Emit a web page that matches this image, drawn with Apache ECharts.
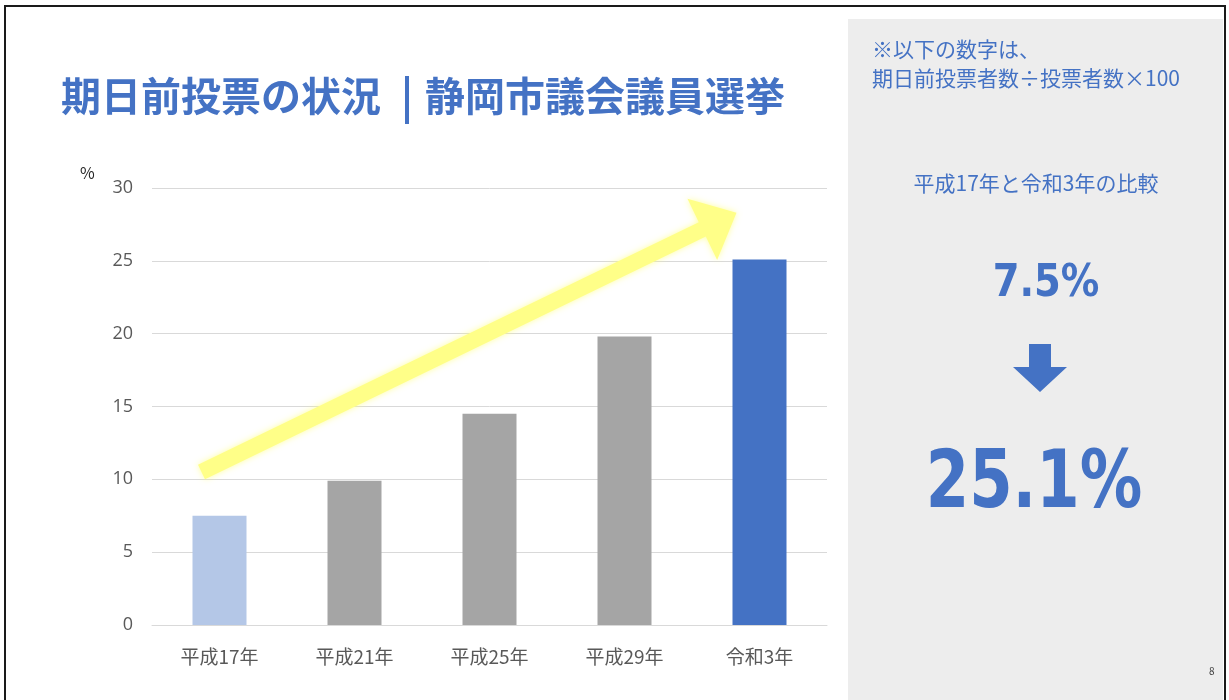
<!DOCTYPE html>
<html>
<head>
<meta charset="utf-8">
<script src="https://cdn.jsdelivr.net/npm/echarts@6/dist/echarts.min.js"></script>
<style>
  html, body { margin: 0; padding: 0; background: #ffffff; }
  #chart { width: 1229px; height: 700px; }
</style>
</head>
<body>
<div id="chart"></div>
<script>
// Election years and early-voting share (%)
const categories = ['平成17年', '平成21年', '平成25年', '平成29年', '令和3年'];
const earlyVoteRate = [7.5, 9.9, 14.5, 19.8, 25.1];
const barColors = ['#B4C7E7', '#A5A5A5', '#A5A5A5', '#A5A5A5', '#4472C4'];
const yTicks = { min: 0, max: 30, interval: 5 };

const titleLeft = '期日前投票の状況';
const titleRight = '静岡市議会議員選挙';
const noteLines = ['※以下の数字は、', '期日前投票者数÷投票者数×100'];
const compareCaption = '平成17年と令和3年の比較';
const fromLabel = earlyVoteRate[0].toFixed(1) + '%';
const toLabel = earlyVoteRate[earlyVoteRate.length - 1].toFixed(1) + '%';

const BLUE = '#4472C4';
const JP = '"Noto Sans CJK JP", "Noto Sans", sans-serif';
const BIGNUM = '"DejaVu Sans", sans-serif';

const chart = echarts.init(document.getElementById('chart'), null, { renderer: 'canvas' });

const option = {
  backgroundColor: '#ffffff',
  animation: false,
  grid: { left: 152, right: 402, top: 188, bottom: 75, containLabel: false },
  xAxis: {
    type: 'category',
    data: categories,
    axisLine: { show: true, lineStyle: { color: '#D9D9D9', width: 1 } },
    axisTick: { show: false },
    axisLabel: { color: '#595959', fontSize: 19, fontFamily: JP, margin: 22 }
  },
  yAxis: {
    type: 'value',
    min: yTicks.min, max: yTicks.max, interval: yTicks.interval,
    axisLine: { show: false },
    axisTick: { show: false },
    axisLabel: { color: '#595959', fontSize: 18, fontFamily: '"Open Sans", "Noto Sans", sans-serif', margin: 19 },
    splitLine: { lineStyle: { color: '#D9D9D9', width: 1 } }
  },
  series: [{
    type: 'bar',
    data: earlyVoteRate.map((v, i) => ({ value: v, itemStyle: { color: barColors[i] } })),
    barWidth: '40%',
    z: 2
  }],
  graphic: []
};
chart.setOption(option);

// Rising trend arrow anchored to the axes
function trendArrow() {
  const p0 = chart.convertToPixel({ gridIndex: 0 }, [0, 10.5]);
  const p1 = chart.convertToPixel({ gridIndex: 0 }, [4, 28.3]);
  const tail = [p0[0] - 18, p0[1]];
  const tip = [p1[0] - 23, p1[1]];
  const dx = tip[0] - tail[0], dy = tip[1] - tail[1];
  const len = Math.hypot(dx, dy);
  const ux = dx / len, uy = dy / len;
  const nx = -uy, ny = ux;
  const shaftHalf = 8, headLen = 38, headHalf = 34;
  const bx = tip[0] - ux * headLen, by = tip[1] - uy * headLen;
  return [
    [tail[0] + nx * shaftHalf, tail[1] + ny * shaftHalf],
    [bx + nx * shaftHalf, by + ny * shaftHalf],
    [bx + nx * headHalf, by + ny * headHalf],
    tip,
    [bx - nx * headHalf, by - ny * headHalf],
    [bx - nx * shaftHalf, by - ny * shaftHalf],
    [tail[0] - nx * shaftHalf, tail[1] - ny * shaftHalf]
  ];
}

const panelX = 848, panelY = 19, panelW = 375, panelH = 681;
const panelCx = 1040;

const graphics = [
  // slide frame
  { type: 'polyline', z: 10, shape: { points: [[5, 700], [5, 6], [1225, 6], [1225, 700]] },
    style: { stroke: '#1a1a1a', lineWidth: 2, fill: null } },
  // side panel
  { type: 'rect', z: 0, shape: { x: panelX, y: panelY, width: panelW, height: panelH },
    style: { fill: '#EDEDED' } },
  // title
  { type: 'text', z: 5, left: 61, top: 76,
    style: { text: titleLeft, font: 'bold 40px ' + JP, fill: BLUE } },
  { type: 'rect', z: 5, shape: { x: 405, y: 76, width: 4, height: 48 }, style: { fill: BLUE } },
  { type: 'text', z: 5, left: 425, top: 76,
    style: { text: titleRight, font: 'bold 40px ' + JP, fill: BLUE } },
  // axis unit
  { type: 'text', z: 5, left: 80, top: 165,
    style: { text: '%', font: '16px ' + JP, fill: '#262626' } },
  // trend arrow
  { type: 'polygon', z: 3, shape: { points: trendArrow() },
    style: { fill: '#FFFF88', shadowBlur: 6, shadowColor: 'rgba(255,255,120,0.7)' } },
  // panel notes
  { type: 'text', z: 5, left: 872, top: 35,
    style: { text: noteLines.join('\n'), font: '21px ' + JP, fill: BLUE, lineHeight: 29 } },
  { type: 'text', z: 5, x: panelCx - 4, y: 183,
    style: { text: compareCaption, font: '21px ' + JP, fill: BLUE, align: 'center', verticalAlign: 'middle' } },
  // condensed headline figures
  { type: 'text', z: 5, x: panelCx + 6, y: 284, scaleX: 0.855,
    style: { x: 0, y: 0, text: fromLabel, font: 'bold 45px ' + BIGNUM,
      fill: BLUE, align: 'center', verticalAlign: 'middle' } },
  { type: 'polygon', z: 5,
    shape: { points: [[panelCx - 11, 344], [panelCx + 11, 344], [panelCx + 11, 367], [panelCx + 27, 367],
      [panelCx, 392], [panelCx - 27, 367], [panelCx - 11, 367]] },
    style: { fill: BLUE } },
  { type: 'text', z: 5, x: panelCx - 6, y: 486, scaleX: 0.78,
    style: { x: 0, y: 0, text: toLabel, font: 'bold 80px ' + BIGNUM,
      fill: BLUE, align: 'center', verticalAlign: 'middle' } },
  // page number
  { type: 'text', z: 5, left: 1209, top: 666,
    style: { text: '8', font: '10px ' + JP, fill: '#404040' } }
];

chart.setOption({ graphic: graphics });
</script>
</body>
</html>
